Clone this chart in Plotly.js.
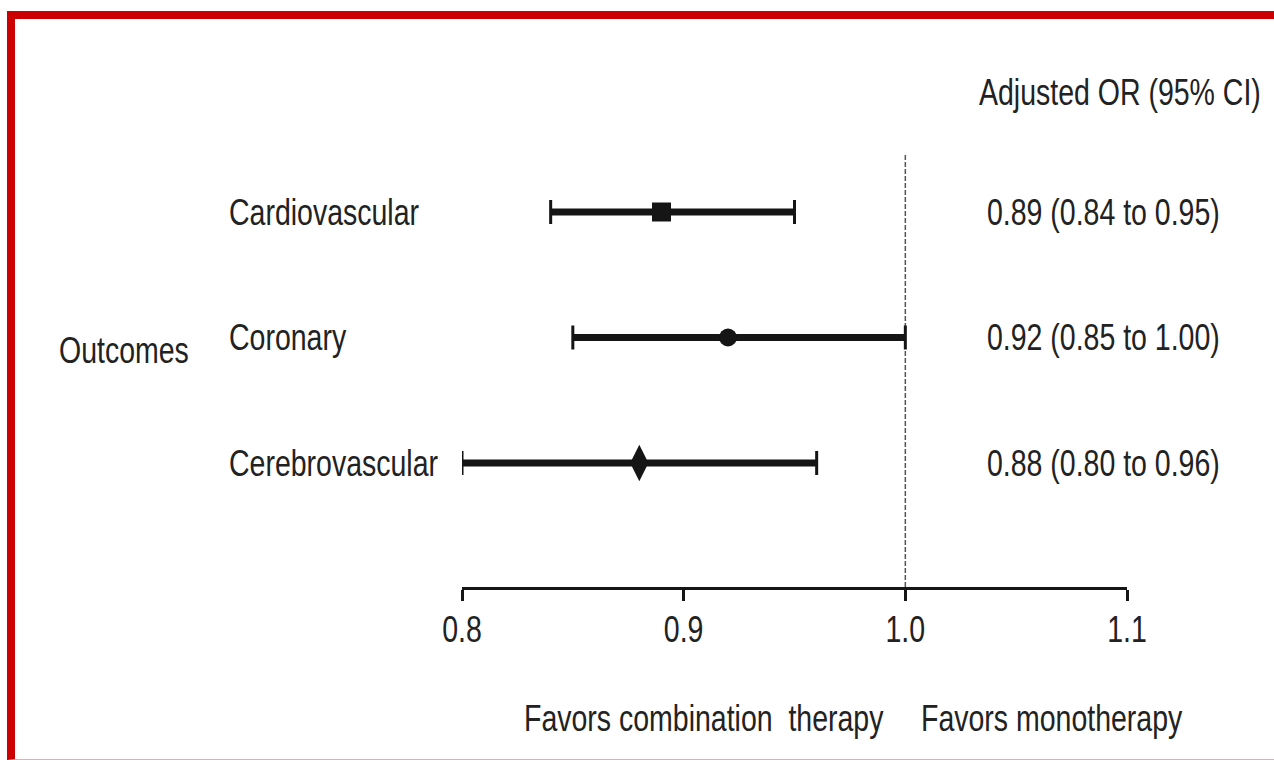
<!DOCTYPE html>
<html>
<head>
<meta charset="utf-8">
<script src="https://cdn.plot.ly/plotly-3.0.1.min.js"></script>
<style>
  html, body { margin: 0; padding: 0; background: #ffffff; }
  #wrap { position: relative; width: 1274px; height: 760px; overflow: hidden; }
  #chart { position: absolute; left: 0; top: 0; width: 1274px; height: 760px; }
  #frame {
    position: absolute; left: 7px; top: 11px; right: 0; bottom: 0;
    border-left: 8px solid #cc0000; border-top: 8px solid #cc0000;
    border-bottom: 1px solid #e9aab2;
    pointer-events: none;
  }
</style>
</head>
<body>
<div id="wrap">
  <div id="chart"></div>
  <div id="frame"></div>
</div>
<script>
// Outcomes and their adjusted odds ratios with 95% confidence limits
const categories = ['Cardiovascular', 'Coronary', 'Cerebrovascular'];
const oddsRatio = [0.89, 0.92, 0.88];
const ciLower = [0.84, 0.85, 0.80];
const ciUpper = [0.95, 1.00, 0.96];

// Axis ticks
const tickValues = [0.8, 0.9, 1.0, 1.1];
const tickLabels = ['0.8', '0.9', '1.0', '1.1'];

const FONT = "'Liberation Sans', Arial, Helvetica, sans-serif";
const FSIZE = 37;
const SQUEEZE = 0.77;   // horizontal condensing applied to every text
const INK = '#151515';
const TXT = '#222222';

// Horizontal interval bars (one segment per outcome)
const ciX = [], ciY = [];
categories.forEach((c, i) => {
  ciX.push(ciLower[i], ciUpper[i], null);
  ciY.push(c, c, null);
});

const intervalTrace = {
  type: 'scatter', mode: 'lines',
  x: ciX, y: ciY,
  line: { color: INK, width: 7 },
  hoverinfo: 'skip'
};

const pointTrace = {
  type: 'scatter', mode: 'markers',
  x: oddsRatio, y: categories,
  cliponaxis: false,
  marker: {
    symbol: ['square', 'circle', 'diamond-tall'],
    size: [19, 18, 26],
    color: INK,
    opacity: 1,
    line: { width: 0 }
  },
  error_x: {
    type: 'data', symmetric: false,
    array: ciUpper.map((u, i) => u - oddsRatio[i]),
    arrayminus: oddsRatio.map((o, i) => o - ciLower[i]),
    color: INK, thickness: 3, width: 12
  }
};

// Pixel helpers: paper x spans the full width, paper y spans 0..PH from the top
const PX0 = 462, PXW = 665, PH = 587;
const px = v => (v - 3) / 1274;
const py = v => (PH - v) / PH;

const textFont = { family: FONT, size: FSIZE, color: TXT };
const annotations = [];
categories.forEach((c, i) => {
  annotations.push({
    xref: 'paper', yref: 'y', x: px(230), y: c, xanchor: 'left', yanchor: 'middle', align: 'left',
    text: c, showarrow: false, font: textFont
  });
  annotations.push({
    xref: 'paper', yref: 'y', x: px(988), y: c, xanchor: 'left', yanchor: 'middle', align: 'left',
    text: oddsRatio[i].toFixed(2) + ' (' + ciLower[i].toFixed(2) + ' to ' + ciUpper[i].toFixed(2) + ')',
    showarrow: false, font: textFont
  });
});
annotations.push(
  { xref: 'paper', yref: 'paper', x: px(980), y: py(92), xanchor: 'left', yanchor: 'middle', align: 'left',
    text: 'Adjusted OR (95% CI)', showarrow: false, font: textFont },
  { xref: 'paper', yref: 'paper', x: px(60), y: py(350), xanchor: 'left', yanchor: 'middle', align: 'left',
    text: 'Outcomes', showarrow: false, font: textFont },
  { xref: 'paper', yref: 'paper', x: px(525), y: py(718), xanchor: 'left', yanchor: 'middle', align: 'left',
    text: 'Favors combination\u00a0 therapy', showarrow: false, font: textFont },
  { xref: 'paper', yref: 'paper', x: px(922), y: py(718), xanchor: 'left', yanchor: 'middle', align: 'left',
    text: 'Favors monotherapy', showarrow: false, font: textFont }
);

const layout = {
  width: 1274, height: 760,
  margin: { l: 0, r: 0, t: 0, b: 760 - PH, pad: 0 },
  paper_bgcolor: '#ffffff', plot_bgcolor: 'rgba(0,0,0,0)',
  showlegend: false,
  xaxis: {
    domain: [PX0 / 1274, (PX0 + PXW) / 1274],
    range: [0.8, 1.1],
    tickvals: tickValues, ticktext: tickLabels,
    ticks: 'outside', ticklen: 11, tickwidth: 3, tickcolor: INK,
    ticklabelstandoff: -3,
    showline: true, linewidth: 3, linecolor: INK,
    showgrid: false, zeroline: false,
    tickfont: textFont,
    fixedrange: true
  },
  yaxis: {
    type: 'category', categoryarray: categories,
    range: [PH / 125.5 - 212 / 125.5, -212 / 125.5],
    showticklabels: false, showgrid: false, zeroline: false, showline: false, ticks: '',
    fixedrange: true
  },
  shapes: [{
    type: 'line', xref: 'x', yref: 'paper',
    x0: 1.0, x1: 1.0, y0: 0, y1: py(153),
    line: { color: '#555555', width: 1.5, dash: '5px,2px' },
    layer: 'below'
  }],
  annotations: annotations
};

// Condense each text horizontally about its own anchor point
function condenseTexts(root) {
  root.querySelectorAll('svg text').forEach(t => {
    if (t.dataset.condensed) return;
    const x = parseFloat(t.getAttribute('x')) || 0;
    const old = t.getAttribute('transform') || '';
    t.setAttribute('transform', (old + ' translate(' + x + ',0) scale(' + SQUEEZE + ',1) translate(' + (-x) + ',0)').trim());
    t.dataset.condensed = '1';
  });
}

const gd = document.getElementById('chart');
Plotly.newPlot(gd, [intervalTrace, pointTrace], layout, { staticPlot: true, displayModeBar: false })
  .then(() => condenseTexts(gd));
</script>
</body>
</html>
